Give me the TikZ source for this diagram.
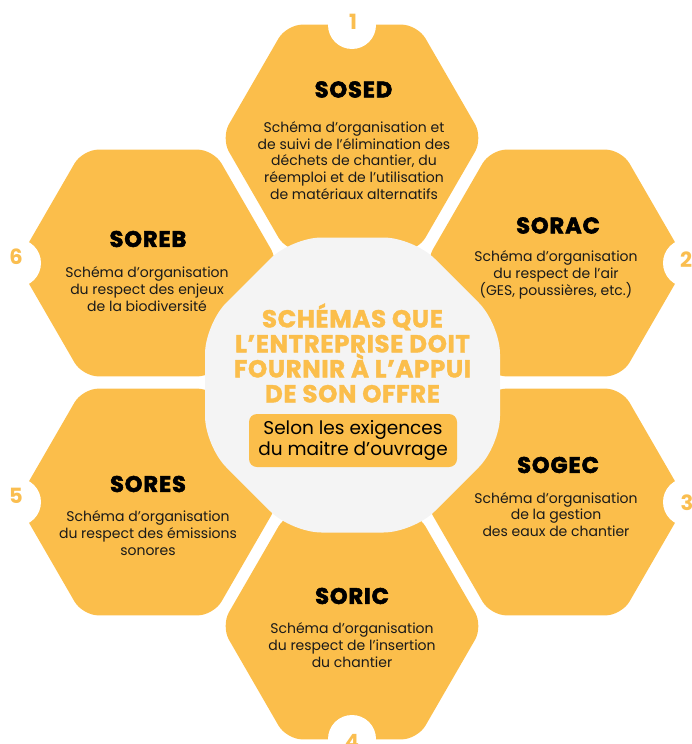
\documentclass[tikz,border=0pt]{standalone}
\usepackage{fontspec}
\setmainfont{Poppins}
\newfontfamily\heavyfont{Poppins}[FakeBold=2.5, LetterSpace=4]
\newfontfamily\ctfont{Poppins}[FakeBold=1.5, LetterSpace=2.5]
\definecolor{hexc}{HTML}{FBBE4B}
\definecolor{octc}{HTML}{F4F4F4}
\definecolor{numc}{HTML}{FABE50}
\definecolor{titc}{HTML}{FBBE4B}
\definecolor{descc}{HTML}{1A1A1A}
\newcommand\hexat[2]{\fill[hex, shift={(#1,#2)}] (131,0) -- (65.5,113.4) -- (-65.5,113.4) -- (-131,0) -- (-65.5,-113.4) -- (65.5,-113.4) -- cycle;}
\begin{document}
\begin{tikzpicture}[x=1pt,y=-1pt,
  hex/.style={fill=hexc, rounded corners=16pt},
  notch/.style={fill=white},
  num/.style={text=numc, font=\fontsize{21}{21}\selectfont\bfseries, inner sep=0},
  ttl/.style={font=\fontsize{22.5}{22.5}\selectfont\heavyfont\bfseries, inner sep=0, text=black},
  desc/.style={font=\fontsize{14}{16.8}\selectfont, align=center, inner sep=0, text=descc},
]
\useasboundingbox (0,0) rectangle (691,744);
% hexagons
\hexat{352}{138}
\hexat{556}{263}
\hexat{556}{502}
\hexat{352}{626}
\hexat{148}{502}
\hexat{148}{263}
% notches
\fill[notch] (352,25) circle (24);
\fill[notch] (687,263) circle (24);
\fill[notch] (687,502) circle (24);
\fill[notch] (352,739) circle (24);
\fill[notch] (17,502) circle (24);
\fill[notch] (17,263) circle (24);
% numbers
\node[num] (n1) at (353,22) {1};
\node[num] (n2) at (686,260) {2};
\node[num] (n3) at (687,503) {3};
\node[num] (n4) at (352,742) {4};
\node[num] (n5) at (16,496) {5};
\node[num] (n6) at (16,257) {6};
% central octagon
\fill[octc, rounded corners=30pt, shift={(352.5,385)}] (147.5,61) -- (61,147.5) -- (-61,147.5) -- (-147.5,61) -- (-147.5,-61) -- (-61,-147.5) -- (61,-147.5) -- (147.5,-61) -- cycle;
\node[text=titc, font=\fontsize{24.5}{25}\selectfont\ctfont\bfseries, align=center, inner sep=0] (ctitle) at (352.5,353) {SCHÉMAS QUE\\L’ENTREPRISE DOIT\\FOURNIR À L’APPUI\\DE SON OFFRE};
\node[fill=hexc, rounded corners=8pt, minimum width=208pt, minimum height=53pt, inner sep=0, align=center, font=\fontsize{18.5}{20.5}\selectfont, text=black] (sub) at (353,440.5) {Selon les exigences\\du maitre d’ouvrage};
% titles
\node[ttl] (t1) at (353.5,89.5) {SOSED};
\node[ttl] (t2) at (558,225.5) {SORAC};
\node[ttl] (t3) at (558,465) {SOGEC};
\node[ttl] (t4) at (352,596) {SORIC};
\node[ttl] (t5) at (148,484) {SORES};
\node[ttl] (t6) at (148,239) {SOREB};
% descriptions
\node[desc] (d1) at (354,160.5) {Schéma d’organisation et\\de suivi de l’élimination des\\déchets de chantier, du\\réemploi et de l’utilisation\\de matériaux alternatifs};
\node[desc] (d2) at (556,275) {Schéma d’organisation\\du respect de l’air\\(GES, poussières, etc.)};
\node[desc] (d3) at (556,514.5) {Schéma d’organisation\\de la gestion\\des eaux de chantier};
\node[desc] (d4) at (352,645) {Schéma d’organisation\\du respect de l’insertion\\du chantier};
\node[desc] (d5) at (148,533) {Schéma d’organisation\\du respect des émissions\\sonores};
\node[desc] (d6) at (147,289) {Schéma d’organisation\\du respect des enjeux\\de la biodiversité};
\end{tikzpicture}
\end{document}
